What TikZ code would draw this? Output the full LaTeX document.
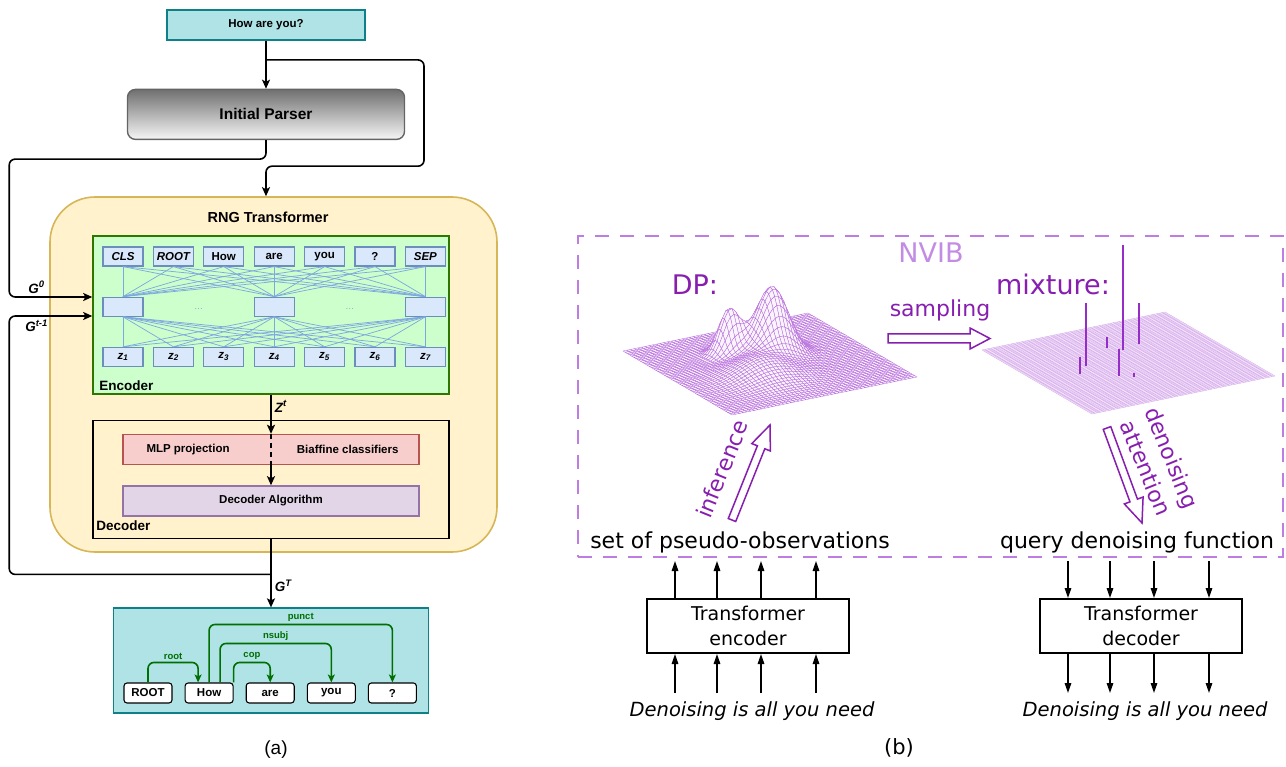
\documentclass[tikz,border=0pt]{standalone}
\usepackage{fontspec}
\setmainfont{Liberation Sans}
\newfontfamily\nvibfont{DejaVu Sans}
\usetikzlibrary{positioning,calc,arrows.meta}
\newcommand{\RngFont}[1]{\fontsize{#1}{#1}\selectfont}
\newcommand{\RngTokGap}{9.2pt}
\newcommand{\NvibMesh}{50}
\newcommand{\NvibMeshLast}{49}
\newcommand{\NvibHollow}[5]{%
	\coordinate (hh) at ($(#2)!#4!(#1)$);
	\draw[hollow] ($(#1)!#3!90:(#2)$) -- ($(hh)!#3!90:(#2)$) -- ($(hh)!#5!90:(#2)$) -- (#2) -- ($(hh)!#5!-90:(#2)$) -- ($(hh)!#3!-90:(#2)$) -- ($(#1)!#3!-90:(#2)$) -- cycle;
}
\definecolor{tealfill}{HTML}{B0E3E6}
\definecolor{tealline}{HTML}{0E8088}
\definecolor{yelfill}{HTML}{FFF2CC}
\definecolor{yelline}{HTML}{D6B656}
\definecolor{encfill}{HTML}{CCFFCC}
\definecolor{encline}{HTML}{2D7600}
\definecolor{tokfill}{HTML}{DAE8FC}
\definecolor{tokline}{HTML}{6C8EBF}
\definecolor{tokwire}{HTML}{7EA6E0}
\definecolor{mlpfill}{HTML}{F8CECC}
\definecolor{mlpline}{HTML}{B85450}
\definecolor{algfill}{HTML}{E1D5E7}
\definecolor{algline}{HTML}{9673A6}
\definecolor{parsertop}{RGB}{112,112,112}
\definecolor{parserbot}{RGB}{246,246,246}
\definecolor{parserline}{RGB}{100,100,100}
\definecolor{arcgreen}{RGB}{0,110,0}
\definecolor{nvibline}{RGB}{190,125,225}
\definecolor{nvibtext}{RGB}{195,140,228}
\definecolor{dptext}{RGB}{135,30,175}
\definecolor{meshcol}{RGB}{180,100,220}
\definecolor{spikecol}{RGB}{150,45,200}
\tikzset{
	flow/.style={draw=black, line width=1.6pt, rounded corners=6pt, -{Stealth[length=9pt,width=8pt,inset=2pt]}},
	qbox/.style={draw=tealline, fill=tealfill, line width=1.4pt, minimum width=198pt, minimum height=30pt, font=\RngFont{11.5}\bfseries},
	parser/.style={draw=parserline, line width=1.4pt, rounded corners=8pt, top color=parsertop, bottom color=parserbot, minimum width=277pt, minimum height=50pt, font=\RngFont{15.5}\bfseries},
	rngbox/.style={draw=yelline, fill=yelfill, line width=1.6pt, rounded corners=45pt, minimum width=447pt, minimum height=355pt},
	encbox/.style={draw=encline, fill=encfill, line width=1.6pt, minimum width=356pt, minimum height=158pt},
	decbox/.style={draw=black, line width=1.6pt, minimum width=356pt, minimum height=118pt},
	mlpbox/.style={draw=mlpline, fill=mlpfill, line width=1.4pt, minimum width=296pt, minimum height=30pt},
	algbox/.style={draw=algline, fill=algfill, line width=1.4pt, minimum width=296pt, minimum height=30pt, font=\RngFont{11.5}\bfseries},
	outbox/.style={draw=tealline, fill=tealfill, line width=1.4pt, minimum width=315pt, minimum height=105pt},
	tok/.style={draw=tokline, fill=tokfill, line width=1.2pt, minimum width=40pt, minimum height=19pt, inner sep=0pt, font=\RngFont{11.5}\bfseries},
	wire/.style={draw=tokwire, line width=0.7pt},
	word/.style={draw=black, fill=white, line width=1.1pt, rounded corners=3pt, minimum width=48pt, minimum height=20pt, inner sep=0pt, font=\RngFont{11.5}\bfseries},
	arc/.style={draw=arcgreen, line width=1.6pt, rounded corners=6pt, -{Stealth[length=8pt,width=7pt,inset=2pt]}},
	alab/.style={text=arcgreen, font=\RngFont{9.5}\bfseries, inner sep=2pt},
	lbl/.style={inner sep=0pt, font=\RngFont{11.5}\bfseries},
	glab/.style={font=\RngFont{13.5}\bfseries\itshape, inner sep=3pt},
	nvbox/.style={draw=nvibline, line width=2pt, dash pattern=on 14pt off 11pt, minimum width=705pt, minimum height=321pt},
	nvib/.style={text=nvibtext, font=\nvibfont\RngFont{27}},
	dpl/.style={text=dptext, font=\nvibfont\RngFont{27}},
	dps/.style={text=dptext, font=\nvibfont\RngFont{22}},
	nvtxt/.style={font=\nvibfont\RngFont{22}},
	tbox/.style={draw=black, line width=2pt, minimum width=202pt, minimum height=54pt, align=center, font=\nvibfont\fontsize{19}{25}\selectfont},
	tarr/.style={draw=black, line width=1.5pt, -{Triangle[length=10pt,width=6.5pt]}},
	hollow/.style={draw=dptext, line width=1.5pt, fill=white, line join=miter},
	spike/.style={draw=spikecol, line width=2pt},
	dpmesh/.style={draw=meshcol, line width=0.3pt, fill=meshcol!8},
	mixmesh/.style={draw=meshcol!60, line width=0.3pt}
}
\begin{document}
\begin{tikzpicture}[x=1pt, y=-1pt,
	declare function={dph(\u,\v)=66*exp(-((\u-0.57)*(\u-0.57)+(\v-0.40)*(\v-0.40))/0.012)+44*exp(-((\u-0.39)*(\u-0.39)+(\v-0.31)*(\v-0.31))/0.005)+18*exp(-((\u-0.40)*(\u-0.40)+(\v-0.60)*(\v-0.60))/0.035);}]
	\useasboundingbox (0,0) rectangle (1286,767);

	\node[qbox] (q) at (266,25) {How are you?};
	\node[parser, below=48pt of q] (ip) {Initial Parser};
	\node[rngbox] (rng) at (273.5,374.5) {};
	\node[lbl, font=\RngFont{14.5}\bfseries] (rngt) at (268,217) {RNG Transformer};
	\node[encbox] (enc) at (271,315) {};
	\node[decbox, below=25pt of enc] (dec) {};
	\node[mlpbox, below=14pt of dec.north] (mlp) {};
	\node[algbox, below=20pt of mlp] (alg) {Decoder Algorithm};
	\node[outbox, below=68pt of dec] (out) {};
	\node[lbl, anchor=base west, font=\RngFont{13.5}\bfseries] (encl) at ($(enc.south west)+(7,-4)$) {Encoder};
	\node[lbl, anchor=base west, font=\RngFont{13.5}\bfseries] (decl) at ($(dec.south west)+(4,-9)$) {Decoder};
	\node[lbl, right=24pt of mlp.west] (mlpa) {MLP projection};
	\node[lbl, left=21pt of mlp.east] (mlpb) {Biaffine classifiers};

	\node[tok] (t1) at (123,256.5) {\itshape CLS};
	\node[tok, right=\RngTokGap of t1] (t2) {\itshape ROOT};
	\node[tok, right=\RngTokGap of t2] (t3) {How};
	\node[tok, right=\RngTokGap of t3] (t4) {are};
	\node[tok, right=\RngTokGap of t4] (t5) {you};
	\node[tok, right=\RngTokGap of t5] (t6) {?};
	\node[tok, right=\RngTokGap of t6] (t7) {\itshape SEP};
	\node[tok, below=30pt of t1] (m1) {};
	\node[tok, below=30pt of t4] (m2) {};
	\node[tok, below=30pt of t7] (m3) {};
	\node[tok] (z1) [below=30pt of m1] {\itshape z\textsubscript{1}};
	\node[tok, right=\RngTokGap of z1] (z2) {\itshape z\textsubscript{2}};
	\node[tok, right=\RngTokGap of z2] (z3) {\itshape z\textsubscript{3}};
	\node[tok, right=\RngTokGap of z3] (z4) {\itshape z\textsubscript{4}};
	\node[tok, right=\RngTokGap of z4] (z5) {\itshape z\textsubscript{5}};
	\node[tok, right=\RngTokGap of z5] (z6) {\itshape z\textsubscript{6}};
	\node[tok, right=\RngTokGap of z6] (z7) {\itshape z\textsubscript{7}};
	\node[text=tokline!80, font=\RngFont{9}] at ($(m1)!0.5!(m2)+(0,2)$) {\dots};
	\node[text=tokline!80, font=\RngFont{9}] at ($(m2)!0.5!(m3)+(0,2)$) {\dots};
	\foreach \a in {1,...,7}{
		\foreach \b in {1,2,3}{
			\draw[wire] (t\a.south) -- (m\b.north);
			\draw[wire] (m\b.south) -- (z\a.north);
		}
	}

	\coordinate (br) at ($(q.south)!0.4!(ip.north)$);
	\coordinate (fb) at ($(dec.south)!0.515!(out.north)$);
	\draw[flow] (q) -- (ip);
	\draw[flow] (br) -- ++(158,0) |- ($(q.south |- rng.north)+(0,-30)$) -- (q.south |- rng.north);
	\draw[flow] (ip.south) -- ++(0,19) -| ($(enc.west)+(-83,-18)$) -- node[glab, above, pos=0.33] {G\textsuperscript{0}} ($(enc.west)+(0,-18)$);
	\draw[flow] (fb) -| ($(enc.west)+(-83,1)$) -- node[glab, below, pos=0.33] {G\textsuperscript{t-1}} ($(enc.west)+(0,1)$);
	\draw[flow] (enc) -- node[glab, right, pos=0.3] {Z\textsuperscript{t}} (mlp);
	\draw[line width=1.6pt, dash pattern=on 5pt off 4pt] (mlp.north) -- (mlp.south);
	\draw[flow] (mlp) -- (alg);
	\draw[flow] (dec) -- node[glab, right, pos=0.68] {G\textsuperscript{T}} (out);

	\node[word] (w1) at (148,693) {ROOT};
	\node[word, right=12pt of w1] (w2) {How};
	\node[word, right=12pt of w2] (w3) {are};
	\node[word, right=12pt of w3] (w4) {you};
	\node[word, right=12pt of w4] (w5) {?};
	\draw[arc] (w1.north) -- ++(0,-20) -| ($(w2.north)+(-11,0)$) node[alab, above, pos=0.25] {root};
	\draw[arc] (w2.north east) -- ++(0,-20) -| (w3.north) node[alab, above, pos=0.25] {cop};
	\draw[arc] ($(w2.north)+(11,0)$) -- ++(0,-39) -| (w4.north) node[alab, above, pos=0.25] {nsubj};
	\draw[arc] (w2.north) -- ++(0,-58) -| (w5.north) node[alab, above, pos=0.25] {punct};
	\node[font=\RngFont{19}] (capa) at (276,750) {(a)};

	\node[nvbox] (nvib) at (930.5,396.5) {};
	\node[nvib, anchor=base] (nvibt) at (931,263) {NVIB};
	\foreach \i in {0,...,\NvibMesh}{
		\foreach \j in {0,...,\NvibMesh}{
			\pgfmathsetmacro{\uu}{\i/\NvibMesh}
			\pgfmathsetmacro{\vv}{\j/\NvibMesh}
			\coordinate (dp-\i-\j) at ({623+185*\uu+109*\vv},{351-38*\uu+64*\vv-dph(\uu,\vv)});
		}
	}
	\foreach \j [evaluate=\j as \jj using int(\j+1)] in {0,...,\NvibMeshLast}{
		\foreach \i [evaluate=\i as \ii using int(\i+1)] in {\NvibMeshLast,...,0}{
			\filldraw[dpmesh] (dp-\i-\j) -- (dp-\ii-\j) -- (dp-\ii-\jj) -- (dp-\i-\jj) -- cycle;
		}
	}
	\coordinate (mxL) at (982,350);
	\coordinate (mxT) at (1165,312);
	\coordinate (mxB) at (1092,414);
	\coordinate (mxR) at (1275,376);
	\fill[meshcol!12] (mxL) -- (mxT) -- (mxR) -- (mxB) -- cycle;
	\foreach \k in {0,...,64}{
		\draw[mixmesh] ($(mxL)!{\k/64}!(mxT)$) -- ($(mxB)!{\k/64}!(mxR)$);
		\draw[mixmesh] ($(mxL)!{\k/64}!(mxB)$) -- ($(mxT)!{\k/64}!(mxR)$);
	}
	\foreach \sx/\sa/\sb in {1086/303/366, 1123/245/350, 1139/303/344, 1107/337/348, 1080/357/374, 1119/349/376, 1134/373/377}{
		\draw[spike] (\sx,\sa) -- (\sx,\sb);
	}
	\node[dpl, anchor=base] (dpt) at (695,295) {DP:};
	\node[dpl, anchor=base] (mixt) at (1053,295) {mixture:};
	\node[dps, anchor=base] (samp) at (940,317) {sampling};
	\coordinate (sa) at (888,338.5);
	\coordinate (sb) at (990,338.5);
	\NvibHollow{sa}{sb}{4.5pt}{20pt}{10.5pt}
	\coordinate (ia) at (732,520);
	\coordinate (ib) at (770,425);
	\NvibHollow{ia}{ib}{4pt}{24pt}{10pt}
	\coordinate (da) at (1107,428);
	\coordinate (db) at (1142,523);
	\NvibHollow{da}{db}{4pt}{24pt}{10pt}
	\node[dps, rotate=68] (inft) at (722,469) {inference};
	\node[dps, rotate=-68, align=center, font=\nvibfont\fontsize{22}{28}\selectfont] (dnst) at (1159,463) {denoising\\attention};
	\node[nvtxt, anchor=base] (pso) at (740,548) {set of pseudo-observations};
	\node[nvtxt, anchor=base] (qdf) at (1137,548) {query denoising function};

	\node[tbox] (tenc) at (748,626) {Transformer\\encoder};
	\node[tbox] (tdec) at (1141,626) {Transformer\\decoder};
	\foreach \dx in {-73,-31,13,68}{
		\draw[tarr] ($(tenc.north)+(\dx,0)$) -- ++(0,-37);
		\draw[tarr] ($(tenc.south)+(\dx,39)$) -- ++(0,-39);
		\draw[tarr] ($(tdec.north)+(\dx,-37)$) -- ++(0,37);
		\draw[tarr] ($(tdec.south)+(\dx,0)$) -- ++(0,39);
	}
	\node[nvtxt, anchor=base, font=\nvibfont\itshape\RngFont{19.5}] (inenc) at (752,716) {Denoising is all you need};
	\node[nvtxt, anchor=base, font=\nvibfont\itshape\RngFont{19.5}] (indec) at (1145,716) {Denoising is all you need};
	\node[font=\nvibfont\RngFont{21}] (capb) at (899,748) {(b)};
\end{tikzpicture}
\end{document}
